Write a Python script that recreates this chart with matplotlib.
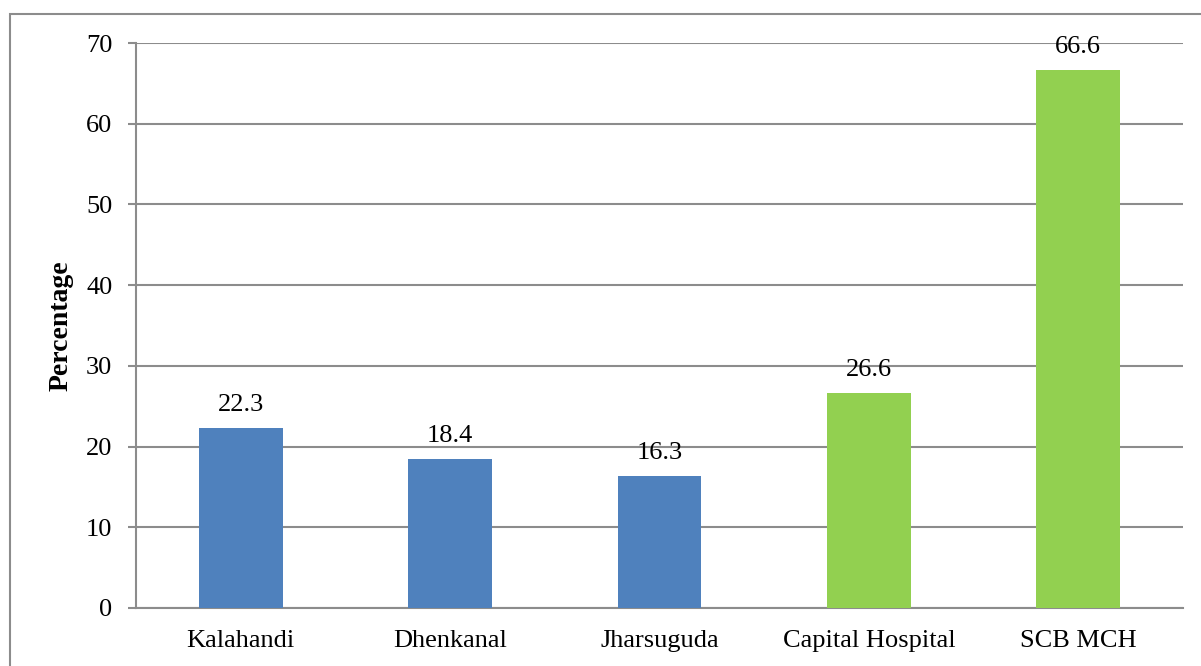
import matplotlib.pyplot as plt
from matplotlib.patches import Rectangle

sites = ['Kalahandi', 'Dhenkanal', 'Jharsuguda', 'Capital Hospital', 'SCB MCH']
percent = [22.3, 18.4, 16.3, 26.6, 66.6]
bar_colors = ['#4F81BD', '#4F81BD', '#4F81BD', '#92D050', '#92D050']

plt.rcParams['font.family'] = ['Liberation Serif', 'DejaVu Serif']

fig = plt.figure(figsize=(12.01, 6.66), dpi=100)
ax = fig.add_axes([136 / 1201, 1 - 608 / 666, 1047 / 1201, 565 / 666])

# outer chart frame, running off the right and bottom edge
fig.patches.append(Rectangle((10 / 1201, -0.1), 1.2, 1 - 14 / 666 + 0.1,
                             transform=fig.transFigure, fill=False,
                             edgecolor='#8c8c8c', lw=1.5))

x = range(len(sites))
bars = ax.bar(x, percent, width=0.4, color=bar_colors, zorder=3)
for b, v in zip(bars, percent):
    ax.annotate(f'{v}', (b.get_x() + b.get_width() / 2, v), xytext=(0, 9),
                textcoords='offset points', ha='center', va='bottom', fontsize=19)

ax.set_xlim(-0.5, len(sites) - 0.5)
ax.set_ylim(0, 70)
ax.set_yticks(range(0, 71, 10))
ax.set_xticks(list(x))
ax.set_xticklabels(sites)
ax.yaxis.grid(True, color='#8c8c8c', lw=1.5, zorder=0)
ax.tick_params(axis='y', length=6, width=1.5, color='#8c8c8c', labelsize=19, pad=11)
ax.tick_params(axis='x', length=0, labelsize=19, pad=16)
for s in ['top', 'right']:
    ax.spines[s].set_visible(False)
for s in ['left', 'bottom']:
    ax.spines[s].set_color('#8c8c8c')
    ax.spines[s].set_linewidth(1.5)
ax.set_ylabel('Percentage', fontsize=20, fontweight='bold', labelpad=9)

fig.savefig('out.png', dpi=100)
